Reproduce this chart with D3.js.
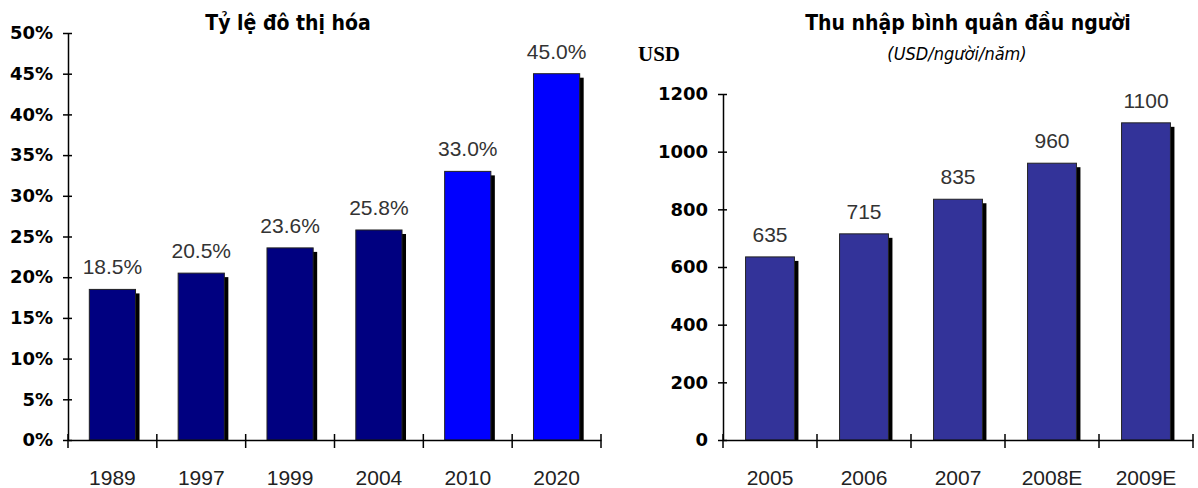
<!DOCTYPE html>
<html><head><meta charset="utf-8">
<script src="https://cdn.jsdelivr.net/npm/d3@7"></script>
<style>
body{margin:0;background:#fff;}
svg{display:block;}
</style></head>
<body><svg id="c" width="1198" height="488"></svg>
<script>
// Left chart data
const urbanYears = ["1989","1997","1999","2004","2010","2020"];
const urbanValues = [18.5, 20.5, 23.6, 25.8, 33.0, 45.0];
const urbanProjected = [false,false,false,false,true,true];
const urbanTicks = [0,5,10,15,20,25,30,35,40,45,50];
// Right chart data
const incomeYears = ["2005","2006","2007","2008E","2009E"];
const incomeValues = [635, 715, 835, 960, 1100];
const incomeTicks = [0,200,400,600,800,1000,1200];

const svg = d3.select("#c");
const tickFont = "'DejaVu Sans', sans-serif";
const labFont = "'Liberation Sans', Arial, sans-serif";
const titleFont = "'DejaVu Sans Condensed', 'DejaVu Sans', sans-serif";

function drawChart(cfg){
  const g = svg.append("g");
  const x = d3.scaleBand().domain(cfg.cats).range([cfg.x0, cfg.x1]).paddingInner(0.48).paddingOuter(0.24);
  const y = d3.scaleLinear().domain([0, cfg.max]).range([cfg.y0, cfg.y1]);
  const bw = x.bandwidth();
  const data = cfg.cats.map((c,i)=>({c, v:cfg.vals[i], i}));
  // shadows
  g.selectAll("rect.sh").data(data).join("rect")
    .attr("x", d=>x(d.c)+4).attr("y", d=>y(d.v)+4)
    .attr("width", bw).attr("height", d=>cfg.y0 - y(d.v) - 4)
    .attr("fill", "#000");
  // bars
  g.selectAll("rect.b").data(data).join("rect")
    .attr("x", d=>x(d.c)).attr("y", d=>y(d.v))
    .attr("width", bw).attr("height", d=>cfg.y0 - y(d.v))
    .attr("fill", d=>cfg.color(d.i)).attr("stroke","#222").attr("stroke-width",1);
  // value labels
  g.selectAll("text.v").data(data).join("text")
    .attr("x", d=>x(d.c)+bw/2).attr("y", d=>y(d.v)-15)
    .attr("text-anchor","middle").attr("font-family",labFont).attr("font-size",21)
    .attr("fill","#333").text(d=>cfg.fmt(d.v));
  // y axis
  const ya = d3.axisLeft(y).tickValues(cfg.ticks).tickFormat(cfg.tickFmt).tickSizeInner(5).tickSizeOuter(0);
  const yg = g.append("g").attr("transform",`translate(${cfg.x0},0)`).call(ya);
  yg.select(".domain").attr("stroke","#000").attr("stroke-width",1.5);
  yg.selectAll(".tick line").attr("x2",-5).attr("x1",4).attr("stroke","#000").attr("stroke-width",1.5);
  yg.selectAll(".tick text").attr("x",-15).attr("font-family",tickFont).attr("font-weight","bold")
    .attr("font-size",cfg.tickSize).attr("fill","#000");
  // x axis
  const xa = d3.axisBottom(x).tickSize(0).tickSizeOuter(0);
  const xg = g.append("g").attr("transform",`translate(0,${cfg.y0})`).call(xa);
  xg.select(".domain").attr("stroke","#000").attr("stroke-width",1.5);
  xg.selectAll(".tick text").attr("y",30).attr("font-family",labFont).attr("font-size",21).attr("fill","#222");
  // category boundary ticks
  const bounds = cfg.cats.map(c=>x(c) - x.step()*x.paddingInner()/2).concat([cfg.x1]);
  g.selectAll("line.bt").data(bounds).join("line")
    .attr("x1",d=>d).attr("x2",d=>d).attr("y1",cfg.y0-6).attr("y2",cfg.y0+8)
    .attr("stroke","#000").attr("stroke-width",1.5);
  // title
  g.append("text").attr("x",cfg.tx).attr("y",30).attr("text-anchor","middle")
    .attr("font-family",titleFont).attr("font-weight","bold").attr("font-size",21)
    .attr("fill","#000").text(cfg.title);
  return g;
}

drawChart({
  cats: urbanYears, vals: urbanValues, max: 50, ticks: urbanTicks,
  x0: 68, x1: 601, y0: 440, y1: 33, tickSize: 18,
  color: i => urbanProjected[i] ? "#0000ff" : "#000080",
  fmt: v => v.toFixed(1) + "%", tickFmt: v => v + "%",
  title: "Tỷ lệ đô thị hóa", tx: 288
});

const g2 = drawChart({
  cats: incomeYears, vals: incomeValues, max: 1200, ticks: incomeTicks,
  x0: 723, x1: 1193, y0: 440, y1: 94, tickSize: 18,
  color: () => "#333399",
  fmt: v => String(v), tickFmt: v => String(v),
  title: "Thu nhập bình quân đầu người", tx: 968
});
g2.append("text").attr("x",957).attr("y",60).attr("text-anchor","middle")
  .attr("font-family",titleFont).attr("font-style","italic").attr("font-size",18)
  .attr("fill","#000").text("(USD/người/năm)");
g2.append("text").attr("x",638).attr("y",61)
  .attr("font-family","'Liberation Serif', serif").attr("font-weight","bold").attr("font-size",21)
  .attr("fill","#000").text("USD");
</script></body></html>
